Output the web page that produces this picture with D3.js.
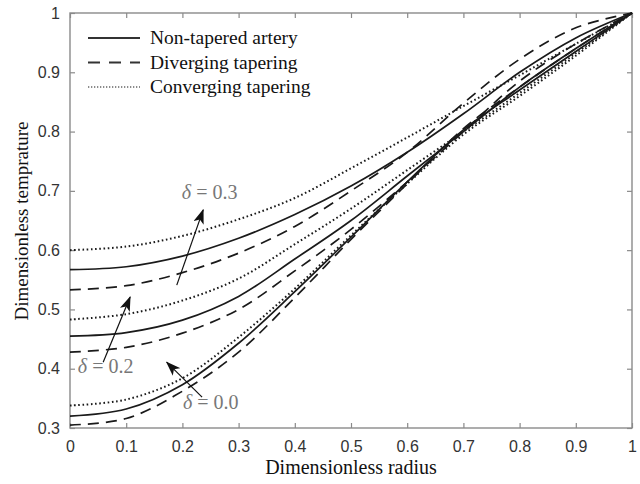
<!DOCTYPE html>
<html>
<head>
<meta charset="utf-8">
<script src="https://cdn.jsdelivr.net/npm/d3@7"></script>
<style>
body { margin: 0; background: #fff; }
</style>
</head>
<body>
<svg id="chart" width="640" height="484"></svg>
<script>
// dimensionless radius samples
const radius = [0, 0.1, 0.2, 0.3, 0.4, 0.5, 0.6, 0.7, 0.8, 0.9, 1.0];

// non-tapered artery (solid)
const nonTaperedD0 = [0.320, 0.332, 0.373, 0.443, 0.530, 0.622, 0.715, 0.803, 0.870, 0.935, 1.0];
const nonTaperedD2 = [0.455, 0.461, 0.482, 0.522, 0.585, 0.650, 0.725, 0.800, 0.875, 0.940, 1.0];
const nonTaperedD3 = [0.567, 0.572, 0.590, 0.620, 0.660, 0.708, 0.765, 0.830, 0.900, 0.958, 1.0];

// diverging tapering (dashed)
const divergingD0 = [0.305, 0.316, 0.362, 0.428, 0.520, 0.618, 0.712, 0.805, 0.875, 0.940, 1.0];
const divergingD2 = [0.428, 0.436, 0.460, 0.500, 0.565, 0.635, 0.715, 0.800, 0.885, 0.948, 1.0];
const divergingD3 = [0.533, 0.540, 0.562, 0.595, 0.640, 0.700, 0.765, 0.848, 0.922, 0.975, 1.0];

// converging tapering (dotted)
const convergingD0 = [0.338, 0.348, 0.384, 0.453, 0.535, 0.625, 0.712, 0.795, 0.860, 0.928, 1.0];
const convergingD2 = [0.483, 0.492, 0.515, 0.552, 0.610, 0.670, 0.735, 0.800, 0.865, 0.932, 1.0];
const convergingD3 = [0.600, 0.606, 0.624, 0.652, 0.688, 0.738, 0.790, 0.843, 0.895, 0.948, 1.0];

const xTicks = [0, 0.1, 0.2, 0.3, 0.4, 0.5, 0.6, 0.7, 0.8, 0.9, 1];
const yTicks = [0.3, 0.4, 0.5, 0.6, 0.7, 0.8, 0.9, 1];

const legendLabels = ["Non-tapered artery", "Diverging tapering", "Converging tapering"];

// arrow annotations: from -> to in data units
const annotations = [
    { label: "0.3", from: [0.190, 0.541], to: [0.237, 0.668], text: [0.199, 0.686] },
    { label: "0.2", from: [0.059, 0.411], to: [0.107, 0.521], text: [0.014, 0.392] },
    { label: "0.0", from: [0.235, 0.352], to: [0.172, 0.411], text: [0.201, 0.332] }
];

const width = 640, height = 484;
const margin = { top: 13, right: 8, bottom: 56, left: 70 };

const svg = d3.select("#chart");

const x = d3.scaleLinear().domain([0, 1]).range([margin.left, width - margin.right]);
const y = d3.scaleLinear().domain([0.3, 1]).range([height - margin.bottom, margin.top]);

const styles = {
    solid: null,
    dashed: "11,7",
    dotted: "1.6,2.6"
};

const series = [
    { values: nonTaperedD0, style: "solid" },
    { values: nonTaperedD2, style: "solid" },
    { values: nonTaperedD3, style: "solid" },
    { values: divergingD0, style: "dashed" },
    { values: divergingD2, style: "dashed" },
    { values: divergingD3, style: "dashed" },
    { values: convergingD0, style: "dotted" },
    { values: convergingD2, style: "dotted" },
    { values: convergingD3, style: "dotted" }
];

const tickFmt = d => (d === 0 || d === 1) ? String(d) : d.toFixed(1);

// axes
const axisColor = "#8a8a8a";

const gx = svg.append("g")
    .attr("transform", `translate(0,${height - margin.bottom})`)
    .call(d3.axisBottom(x).tickValues(xTicks).tickSizeInner(-5).tickSizeOuter(0).tickPadding(13).tickFormat(tickFmt));

const gy = svg.append("g")
    .attr("transform", `translate(${margin.left},0)`)
    .call(d3.axisLeft(y).tickValues(yTicks).tickSizeInner(-5).tickSizeOuter(0).tickPadding(10).tickFormat(tickFmt));

const gTop = svg.append("g")
    .attr("transform", `translate(0,${margin.top})`)
    .call(d3.axisTop(x).tickValues(xTicks).tickSizeInner(-5).tickSizeOuter(0).tickFormat(""));

const gRight = svg.append("g")
    .attr("transform", `translate(${width - margin.right},0)`)
    .call(d3.axisRight(y).tickValues(yTicks).tickSizeInner(-5).tickSizeOuter(0).tickFormat(""));

[gx, gy, gTop, gRight].forEach(g => {
    g.select(".domain").remove();
    g.selectAll(".tick line").attr("stroke", axisColor).attr("stroke-width", 1.2);
    g.selectAll(".tick text")
        .attr("fill", "#333")
        .style("font-family", "Liberation Sans, Arial, sans-serif")
        .style("font-size", "16px");
});

svg.append("rect")
    .attr("x", margin.left)
    .attr("y", margin.top)
    .attr("width", width - margin.left - margin.right)
    .attr("height", height - margin.top - margin.bottom)
    .attr("fill", "none")
    .attr("stroke", axisColor)
    .attr("stroke-width", 1.4);

// curves
const line = d3.line()
    .x((d, i) => x(radius[i]))
    .y(d => y(d))
    .curve(d3.curveCatmullRom.alpha(0.5));

svg.append("g")
    .selectAll("path")
    .data(series)
    .join("path")
    .attr("d", d => line(d.values))
    .attr("fill", "none")
    .attr("stroke", "#1a1a1a")
    .attr("stroke-width", d => d.style === "dotted" ? 2 : 1.7)
    .attr("stroke-dasharray", d => styles[d.style]);

// arrows
svg.append("defs").append("marker")
    .attr("id", "head")
    .attr("viewBox", "0 0 14 10")
    .attr("refX", 13)
    .attr("refY", 5)
    .attr("markerWidth", 15)
    .attr("markerHeight", 11)
    .attr("markerUnits", "userSpaceOnUse")
    .attr("orient", "auto")
    .append("path")
    .attr("d", "M0,0 L14,5 L0,10 L3.5,5 Z")
    .attr("fill", "#111");

const ann = svg.append("g");

ann.selectAll("line")
    .data(annotations)
    .join("line")
    .attr("x1", d => x(d.from[0]))
    .attr("y1", d => y(d.from[1]))
    .attr("x2", d => x(d.to[0]))
    .attr("y2", d => y(d.to[1]))
    .attr("stroke", "#111")
    .attr("stroke-width", 1.2)
    .attr("marker-end", "url(#head)");

const labels = ann.selectAll("text")
    .data(annotations)
    .join("text")
    .attr("x", d => x(d.text[0]))
    .attr("y", d => y(d.text[1]))
    .attr("fill", "#777")
    .style("font-family", "Liberation Serif, Times New Roman, serif")
    .style("font-size", "20px");

labels.append("tspan").style("font-style", "italic").text("δ");
labels.append("tspan").text(d => " = " + d.label);

// legend
const legend = svg.append("g");
const legendRows = ["solid", "dashed", "dotted"];

legendRows.forEach((s, i) => {
    const ly = 38 + i * 24.5;
    legend.append("line")
        .attr("x1", 88).attr("x2", 140)
        .attr("y1", ly).attr("y2", ly)
        .attr("stroke", s === "dotted" ? "#666" : "#333")
        .attr("stroke-width", s === "dotted" ? 1.6 : 2)
        .attr("stroke-dasharray", s === "dashed" ? "12,9" : s === "dotted" ? "1.3,1.7" : null);
    legend.append("text")
        .attr("x", 150)
        .attr("y", ly + 6)
        .attr("fill", "#111")
        .style("font-family", "Liberation Serif, Times New Roman, serif")
        .style("font-size", "19.5px")
        .text(legendLabels[i]);
});

// axis titles
svg.append("text")
    .attr("x", x(0.5))
    .attr("y", 474)
    .attr("text-anchor", "middle")
    .attr("fill", "#111")
    .style("font-family", "Liberation Serif, Times New Roman, serif")
    .style("font-size", "20px")
    .text("Dimensionless radius");

svg.append("text")
    .attr("transform", `translate(28,221) rotate(-90)`)
    .attr("text-anchor", "middle")
    .attr("fill", "#111")
    .style("font-family", "Liberation Serif, Times New Roman, serif")
    .style("font-size", "19px")
    .text("Dimensionless temprature");
</script>
</body>
</html>
